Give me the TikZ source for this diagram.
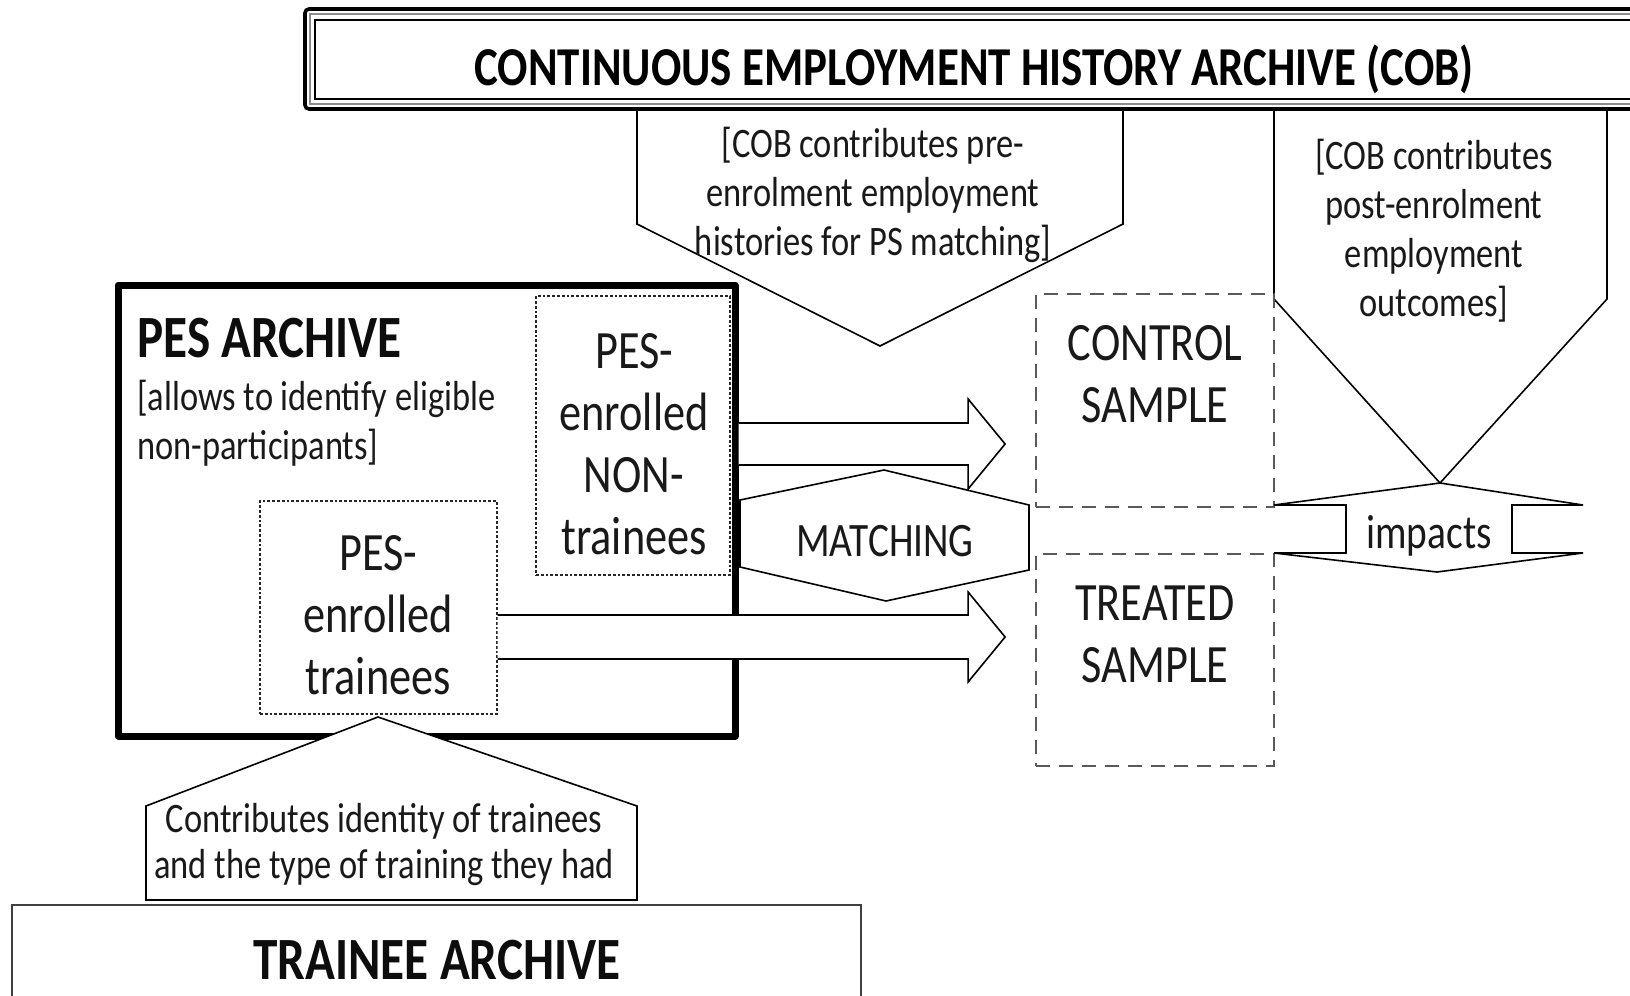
\documentclass[tikz,border=0pt]{standalone}
\usepackage{fontspec}
\setmainfont{Carlito}[FakeStretch=0.82]
\usetikzlibrary{calc,fit}
\begin{document}
\begin{tikzpicture}[x=0.5pt,y=-0.5pt,
  shp/.style={draw=black, line width=0.8pt, fill=white, line join=miter},
  fdash/.style={draw=black!85, line width=0.6pt, dash pattern=on 1.4pt off 1pt},
  sdash/.style={draw=black!65, line width=0.9pt, dash pattern=on 7pt off 4.5pt},
  box/.style={inner sep=0pt},
  small/.style={font=\fontsize{21}{24.5}\selectfont, text=black!90, align=center, inner sep=0pt},
  mid/.style={font=\fontsize{27}{31}\selectfont, text=black!90, align=center, inner sep=0pt},
  big/.style={font=\bfseries\fontsize{30}{36}\selectfont, text=black!95, inner sep=0pt},
]
\useasboundingbox (0,0) rectangle (1630,996);
\clip (0,0) rectangle (1630,996);
\fill[white] (0,0) rectangle (1630,996);

% COB archive
\node[box, fit={(305,9) (1660,109)}, draw=black, line width=1.8pt, rounded corners=2pt] (cobout) {};
\node[box, fit={(310,14) (1660,104)}, draw=black!45, line width=1pt] (cobmid) {};
\node[box, fit={(315,20) (1660,99)}, draw=black, line width=1pt] (cob) {};
\node[font=\bfseries\fontsize{27.4}{32}\selectfont, anchor=base, inner sep=0pt] (cobt) at (974,85) {CONTINUOUS EMPLOYMENT HISTORY ARCHIVE (COB)};

% pointers from COB
\filldraw[shp] (637,111) -- (637,224) -- (880,346) -- (1123,224) -- (1123,111);
\node[small] (pre) at (873,195) {[COB contributes pre-\\enrolment employment\\histories for PS matching]};
\filldraw[shp] (1274,111) -- (1274,299) -- (1440,483) -- (1607,299) -- (1607,111);
\node[small] (post) at (1434,231) {[COB contributes\\post-enrolment\\employment\\outcomes]};

% PES archive
\node[box, fit={(118,285) (735,736)}, draw=black, line width=3.5pt, line join=round] (pes) {};
\node[big, anchor=base west] (pest) at (137,357) {PES ARCHIVE};
\node[small, align=left, anchor=north west] (pesd) at (137,380) {[allows to identify eligible\\non-participants]};
\node[box, fit={(536,296) (730,575)}, fdash] (nont) {};
\node[mid] (nontt) at (634,444) {PES-\\enrolled\\NON-\\trainees};
\node[box, fit={(260,501) (497,714)}, fdash] (trn) {};
\node[mid] (trnt) at (378,615) {PES-\\enrolled\\trainees};

% samples
\node[box, fit={(1036,294) (1274,507)}, sdash] (ctrl) {};
\node[mid] (ctrlt) at (1155,374) {CONTROL\\SAMPLE};
\node[box, fit={(1036,554) (1274,766)}, sdash] (trt) {};
\node[mid] (trtt) at (1155,634) {TREATED\\SAMPLE};

% block arrows
\coordinate (a1s) at (pes.east |- 0,444);
\coordinate (a1t) at ($(ctrl.west |- a1s)+(-30,0)$);
\filldraw[shp] ($(a1s)+(0,-21)$) -- ($(a1t)+(-37,-21)$) -- ($(a1t)+(-37,-45)$) -- (a1t) -- ($(a1t)+(-37,45)$) -- ($(a1t)+(-37,21)$) -- ($(a1s)+(0,21)$);
\coordinate (a2s) at (trn.east |- 0,637);
\coordinate (a2t) at ($(trt.west |- a2s)+(-30,0)$);
\filldraw[shp] ($(a2s)+(0,-22)$) -- ($(a2t)+(-37,-22)$) -- ($(a2t)+(-37,-45)$) -- (a2t) -- ($(a2t)+(-37,45)$) -- ($(a2t)+(-37,22)$) -- ($(a2s)+(0,22)$);

% matching
\filldraw[shp] (740,500) -- (884,470) -- (1029,505) -- (1029,570) -- (886,601) -- (740,567) -- cycle;
\node[font=\fontsize{24}{28}\selectfont, text=black!90, inner sep=0pt] (match) at (885,541) {MATCHING};

% impacts
\filldraw[shp] (1274,505) -- (1440,483) -- (1583,505) -- (1512,505) -- (1512,553) -- (1583,553) -- (1437,572) -- (1274,553) -- (1346,553) -- (1346,505) -- cycle;
\node[font=\fontsize{24}{28}\selectfont, text=black!90, inner sep=0pt] (imp) at (1429,536) {impacts};

% trainee archive
\filldraw[shp] (146,900) -- (146,806) -- (378,717) -- (637,806) -- (637,900) -- cycle;
\draw[black, line width=1.4pt] (146,900) -- (637,900);
\node[small, font=\fontsize{21}{23}\selectfont] (contr) at (384,845) {Contributes identity of trainees\\and the type of training they had};
\node[box, fit={(12,905) (861,1010)}, draw=black!75, line width=1pt] (ta) {};
\node[big, anchor=base] (tat) at (437,979) {TRAINEE ARCHIVE};
\end{tikzpicture}
\end{document}
